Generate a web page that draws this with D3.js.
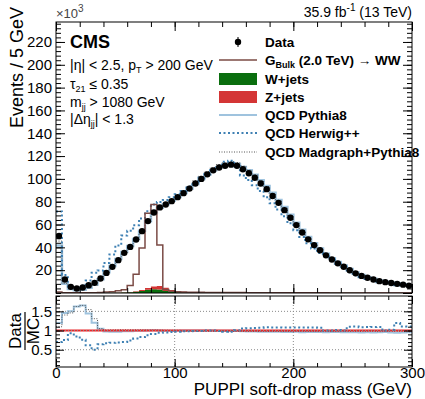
<!DOCTYPE html>
<html>
<head>
<meta charset="utf-8">
<script src="https://cdn.jsdelivr.net/npm/d3@7"></script>
<style>
body { margin: 0; background: #fff; }
text { font-family: "Liberation Sans", Arial, Helvetica, sans-serif; }
</style>
</head>
<body>
<script>
// bins of 5 GeV from 0 to 300
var binWidth = 5;
var binLow = d3.range(0, 300, binWidth);

// events per bin, in units of 10^3
var data = [50, 11.8, 5.4, 3.9, 4.8, 6.8, 8.9, 12.7, 17.6, 22.9,
  28.8, 35.2, 40.4, 46.9, 54.2, 63, 70.6, 75, 77.5, 80.5,
  84, 87.5, 91.5, 96, 100, 104, 107.5, 110, 111.5, 112.5,
  111.5, 108.5, 105, 101, 96, 91, 85, 79, 72.6, 66,
  59.5, 53, 47, 42, 37.5, 33, 29.4, 26, 23, 20,
  17.2, 15, 13.3, 11.8, 10.4, 9.5, 8.8, 8, 7.3, 6.3];

var qcdPythia = [41.7, 8.1, 3.6, 2.4, 2.9, 4.7, 7.4, 12.1, 18.1, 23.6,
  29.7, 35.9, 41.2, 47.3, 54.5, 62.8, 70.2, 74.8, 77.8, 80.9,
  84.2, 87.6, 91.3, 95.6, 99.8, 103.8, 107.6, 110.3, 112.2, 113.4,
  113, 110.5, 107.5, 103.6, 98.9, 93.8, 87.8, 81.6, 75.4, 68.5,
  61.6, 55.5, 49, 43.6, 39, 34.5, 30.5, 27.1, 24.1, 21,
  18, 15.8, 13.9, 12.4, 10.9, 9.9, 9.3, 8.5, 7.7, 6.6];

var qcdHerwig = [71.4, 15.7, 5.8, 4.6, 6.3, 11.0, 17.8, 19.8, 26.3, 33.7,
  41.7, 50.3, 54.6, 59.4, 65.3, 71.6, 77.6, 79.8, 81.6, 83.9,
  86.6, 89.3, 93.4, 97, 101, 104, 107.5, 111, 115, 116,
  111, 103, 99, 94.5, 89.5, 84, 78.7, 73.1, 67.2, 61.1,
  55.1, 49.1, 43.5, 38.9, 35, 33, 29.4, 25.7, 23, 18.2,
  15.6, 13.8, 12.2, 10.8, 9.5, 9.5, 8.6, 6.7, 6.6, 5.7];

var qcdMadgraph = [45.5, 8.4, 3.7, 2.4, 2.9, 4.4, 6.8, 12.1, 17.3, 22.5,
  28.2, 34.5, 39.6, 46, 53.1, 62, 69.5, 74, 76.8, 80,
  83.5, 89.5, 93.6, 98.3, 102.3, 106.5, 110, 112.6, 114.2, 115.2,
  114.2, 111.2, 107.6, 103.5, 98.4, 93.3, 87.1, 81, 74.4, 67.7,
  61, 54.4, 48.2, 43.1, 38.5, 33.9, 30.2, 26.7, 23.6, 20.5,
  17.6, 15.4, 13.6, 12.1, 10.7, 9.7, 9, 8.2, 7.5, 6.5];

var signal = [0.8, 0.3, 0.2, 0.2, 0.2, 0.3, 0.3, 0.4, 0.8, 1.2,
  2, 2.8, 6.5, 16.5, 39.5, 70, 77.5, 42, 3, 1.5,
  1, 0.8, 0.7, 0.6, 0.6, 0.5, 0.5, 0.5, 0.4, 0.4,
  0.4, 0.4, 0.3, 0.3, 0.3, 0.3, 0.3, 0.3, 0.2, 0.2,
  0.2, 0.2, 0.2, 0.2, 0.2, 0.2, 0.1, 0.1, 0.1, 0.1,
  0.1, 0.1, 0.1, 0.1, 0.1, 0.1, 0.1, 0.1, 0.1, 0.1];

var wjets = [0.1, 0.1, 0.1, 0.1, 0.1, 0.1, 0.1, 0.2, 0.2, 0.2,
  0.3, 0.4, 0.6, 1.0, 1.8, 2.8, 3.3, 3.1, 1.8, 0.9,
  0.6, 0.5, 0.5, 0.5, 0.5, 0.5, 0.5, 0.5, 0.5, 0.5,
  0.5, 0.5, 0.5, 0.4, 0.4, 0.4, 0.4, 0.4, 0.3, 0.3,
  0.3, 0.3, 0.3, 0.3, 0.2, 0.2, 0.2, 0.2, 0.2, 0.2,
  0.2, 0.1, 0.1, 0.1, 0.1, 0.1, 0.1, 0.1, 0.1, 0.1];

var zjets = [0, 0, 0, 0, 0, 0, 0, 0.1, 0.1, 0.1,
  0.1, 0.2, 0.3, 0.5, 0.9, 1.6, 2.5, 3.0, 2.8, 1.8,
  0.8, 0.5, 0.4, 0.3, 0.3, 0.3, 0.3, 0.3, 0.3, 0.3,
  0.3, 0.3, 0.3, 0.3, 0.3, 0.2, 0.2, 0.2, 0.2, 0.2,
  0.2, 0.2, 0.2, 0.2, 0.2, 0.1, 0.1, 0.1, 0.1, 0.1,
  0.1, 0.1, 0.1, 0.1, 0.1, 0.1, 0.1, 0.1, 0.1, 0.1];

var xTicks = [0, 100, 200, 300];
var xMinor = d3.range(0, 301, 20);
var yTicks = [20, 40, 60, 80, 100, 120, 140, 160, 180, 200, 220];
var yMinor = d3.range(0, 237, 4);
var rTicks = [0.5, 1, 1.5];
var rMinor = d3.range(0.1, 1.91, 0.1);

var width = 425, height = 399;
var left = 56, right = 412;
var mainTop = 22, mainBottom = 293;
var ratioTop = 296, ratioBottom = 367;

var colPythia = '#9fc3de', colHerwig = '#3e80b3', colMad = '#555555';
var colSignal = '#7b4b45', colW = '#0a6e0e', colZ = '#d43535';

var svg = d3.select('body').append('svg')
  .attr('xmlns', 'http://www.w3.org/2000/svg')
  .attr('width', width)
  .attr('height', height);

var x = d3.scaleLinear().domain([0, 300]).range([left, right]);
var y = d3.scaleLinear().domain([0, 237.5]).range([mainBottom, mainTop]);
var yr = d3.scaleLinear().domain([0.05, 1.9]).range([ratioBottom, ratioTop]);

svg.append('clipPath').attr('id', 'clipMain')
  .append('rect').attr('x', left).attr('y', mainTop)
  .attr('width', right - left).attr('height', mainBottom - mainTop);
svg.append('clipPath').attr('id', 'clipRatio')
  .append('rect').attr('x', left).attr('y', ratioTop)
  .attr('width', right - left).attr('height', ratioBottom - ratioTop);

function stepPath(values, ys) {
  var pts = values.map(function(v, i) { return [binLow[i], v]; });
  pts.push([300, values[values.length - 1]]);
  return d3.line()
    .x(function(d) { return x(d[0]); })
    .y(function(d) { return ys(d[1]); })
    .curve(d3.curveStepAfter)(pts);
}

function stepArea(lo, hi) {
  var pts = binLow.map(function(b, i) { return [b, lo[i], hi[i]]; });
  pts.push([300, lo[lo.length - 1], hi[hi.length - 1]]);
  return d3.area()
    .x(function(d) { return x(d[0]); })
    .y0(function(d) { return y(d[1]); })
    .y1(function(d) { return y(d[2]); })
    .curve(d3.curveStepAfter)(pts);
}

// ---------- main panel ----------
var gMain = svg.append('g').attr('clip-path', 'url(#clipMain)');

var zero = data.map(function() { return 0; });
var wTop = wjets.slice();
var zTop = wjets.map(function(w, i) { return w + zjets[i]; });

gMain.append('path').attr('d', stepArea(zero, wTop)).style('fill', colW);
gMain.append('path').attr('d', stepArea(wTop, zTop)).style('fill', colZ);

gMain.append('path').attr('d', stepPath(qcdPythia, y))
  .style('fill', 'none').style('stroke', colPythia).style('stroke-width', 2.5);
gMain.append('path').attr('d', stepPath(qcdMadgraph, y))
  .style('fill', 'none').style('stroke', colMad).style('stroke-width', 1)
  .style('stroke-dasharray', '1,1.5');
gMain.append('path').attr('d', stepPath(qcdHerwig, y))
  .style('fill', 'none').style('stroke', colHerwig).style('stroke-width', 2)
  .style('stroke-dasharray', '2,2.5');
gMain.append('path').attr('d', stepPath(signal, y))
  .style('fill', 'none').style('stroke', colSignal).style('stroke-width', 1.5);

gMain.selectAll('circle.data').data(data).enter().append('circle')
  .attr('class', 'data')
  .attr('cx', function(d, i) { return x(binLow[i] + binWidth / 2); })
  .attr('cy', function(d) { return y(d); })
  .attr('r', 3.2)
  .style('fill', '#000');

// ---------- ratio panel ----------
var gRatio = svg.append('g').attr('clip-path', 'url(#clipRatio)');

var grid = svg.append('g');
rTicks.forEach(function(t) {
  grid.append('line').attr('x1', left).attr('x2', right)
    .attr('y1', yr(t)).attr('y2', yr(t))
    .style('stroke', '#8a8a8a').style('stroke-width', 1).style('stroke-dasharray', '1,2');
});
[100, 200].forEach(function(t) {
  grid.append('line').attr('x1', x(t)).attr('x2', x(t))
    .attr('y1', ratioTop).attr('y2', ratioBottom)
    .style('stroke', '#8a8a8a').style('stroke-width', 1).style('stroke-dasharray', '1,2');
});

function ratioOf(mc) {
  return data.map(function(d, i) { return d / mc[i]; });
}

gRatio.append('path').attr('d', stepPath(ratioOf(qcdPythia), yr))
  .style('fill', 'none').style('stroke', colPythia).style('stroke-width', 2);
gRatio.append('path').attr('d', stepPath(ratioOf(qcdMadgraph), yr))
  .style('fill', 'none').style('stroke', colMad).style('stroke-width', 1)
  .style('stroke-dasharray', '1,1.5');
gRatio.append('line').attr('x1', left).attr('x2', right)
  .attr('y1', yr(1)).attr('y2', yr(1))
  .style('stroke', '#e8262a').style('stroke-width', 2);
gRatio.append('path').attr('d', stepPath(ratioOf(qcdHerwig), yr))
  .style('fill', 'none').style('stroke', colHerwig).style('stroke-width', 2)
  .style('stroke-dasharray', '2,2.5');

// ---------- axes (ROOT style, ticks inside, on all sides) ----------
function styleAxis(g) {
  g.select('.domain').remove();
  g.selectAll('line').style('stroke', '#000').style('stroke-width', 1);
  g.selectAll('text').style('font-size', '15px').style('fill', '#000');
}

// main y
svg.append('g').attr('transform', 'translate(' + left + ',0)')
  .call(d3.axisLeft(y).tickValues(yMinor).tickSize(-5).tickFormat('')).call(styleAxis);
svg.append('g').attr('transform', 'translate(' + left + ',0)')
  .call(d3.axisLeft(y).tickValues(yTicks).tickSize(-9).tickPadding(4)).call(styleAxis);
svg.append('g').attr('transform', 'translate(' + right + ',0)')
  .call(d3.axisRight(y).tickValues(yMinor).tickSize(-5).tickFormat('')).call(styleAxis);
svg.append('g').attr('transform', 'translate(' + right + ',0)')
  .call(d3.axisRight(y).tickValues(yTicks.concat([0])).tickSize(-9).tickFormat('')).call(styleAxis);

// main x (top and bottom, no labels)
svg.append('g').attr('transform', 'translate(0,' + mainTop + ')')
  .call(d3.axisTop(x).tickValues(xMinor).tickSize(-5).tickFormat('')).call(styleAxis);
svg.append('g').attr('transform', 'translate(0,' + mainTop + ')')
  .call(d3.axisTop(x).tickValues(xTicks).tickSize(-9).tickFormat('')).call(styleAxis);
svg.append('g').attr('transform', 'translate(0,' + mainBottom + ')')
  .call(d3.axisBottom(x).tickValues(xMinor).tickSize(-5).tickFormat('')).call(styleAxis);
svg.append('g').attr('transform', 'translate(0,' + mainBottom + ')')
  .call(d3.axisBottom(x).tickValues(xTicks).tickSize(-9).tickFormat('')).call(styleAxis);

// ratio y
svg.append('g').attr('transform', 'translate(' + left + ',0)')
  .call(d3.axisLeft(yr).tickValues(rMinor).tickSize(-4).tickFormat('')).call(styleAxis);
svg.append('g').attr('transform', 'translate(' + left + ',0)')
  .call(d3.axisLeft(yr).tickValues(rTicks).tickSize(-8).tickPadding(4)
    .tickFormat(function(d) { return d === 1 ? '1' : d; })).call(styleAxis);
svg.append('g').attr('transform', 'translate(' + right + ',0)')
  .call(d3.axisRight(yr).tickValues(rMinor).tickSize(-4).tickFormat('')).call(styleAxis);
svg.append('g').attr('transform', 'translate(' + right + ',0)')
  .call(d3.axisRight(yr).tickValues(rTicks).tickSize(-8).tickFormat('')).call(styleAxis);

// ratio x
svg.append('g').attr('transform', 'translate(0,' + ratioTop + ')')
  .call(d3.axisTop(x).tickValues(xMinor).tickSize(-4).tickFormat('')).call(styleAxis);
svg.append('g').attr('transform', 'translate(0,' + ratioTop + ')')
  .call(d3.axisTop(x).tickValues(xTicks).tickSize(-8).tickFormat('')).call(styleAxis);
svg.append('g').attr('transform', 'translate(0,' + ratioBottom + ')')
  .call(d3.axisBottom(x).tickValues(xMinor).tickSize(-4).tickFormat('')).call(styleAxis);
svg.append('g').attr('transform', 'translate(0,' + ratioBottom + ')')
  .call(d3.axisBottom(x).tickValues(xTicks).tickSize(-8).tickPadding(0)).call(styleAxis);

// frames
[[mainTop, mainBottom], [ratioTop, ratioBottom]].forEach(function(p) {
  svg.append('rect').attr('x', left).attr('y', p[0])
    .attr('width', right - left).attr('height', p[1] - p[0])
    .style('fill', 'none').style('stroke', '#000').style('stroke-width', 1);
});

// ---------- texts ----------
function addText(xp, yp, size, weight, anchor) {
  return svg.append('text').attr('x', xp).attr('y', yp)
    .style('font-size', size + 'px').style('font-weight', weight || 'normal')
    .attr('text-anchor', anchor || 'start');
}
function sub(t, s, str, size) {
  t.append('tspan').attr('dy', 3).style('font-size', size + 'px').text(s);
  t.append('tspan').attr('dy', -3).text(str);
}

var t0 = addText(left, 18, 13, 'normal').style('fill', '#444');
t0.append('tspan').text('\u00d710');
t0.append('tspan').attr('dy', -6).style('font-size', '10px').text('3');

var t1 = addText(right, 17, 14, 'normal', 'end');
t1.append('tspan').text('35.9 fb');
t1.append('tspan').attr('dy', -6).style('font-size', '10px').text('-1');
t1.append('tspan').attr('dy', 6).text(' (13 TeV)');

addText(70, 48, 18, 'bold').text('CMS');

var c1 = addText(70, 70, 14);
c1.append('tspan').text('|\u03b7| < 2.5, p');
sub(c1, 'T', ' > 200 GeV', 9);
var c2 = addText(70, 89, 14);
c2.append('tspan').text('\u03c4');
sub(c2, '21', ' \u2264 0.35', 9);
var c3 = addText(70, 107, 14);
c3.append('tspan').text('m');
sub(c3, 'jj', ' > 1080 GeV', 9);
var c4 = addText(70, 124, 14);
c4.append('tspan').text('|\u0394\u03b7');
sub(c4, 'jj', '| < 1.3', 9);

// axis titles
svg.append('text').attr('transform', 'translate(23,7) rotate(-90)')
  .attr('text-anchor', 'end').style('font-size', '18px').text('Events / 5 GeV');
addText(right, 395, 17, 'normal', 'end').text('PUPPI soft-drop mass (GeV)');

var fr = svg.append('g').attr('transform', 'translate(30,331) rotate(-90)');
fr.append('text').attr('x', 0).attr('y', -9).attr('text-anchor', 'middle')
  .style('font-size', '17px').text('Data');
fr.append('line').attr('x1', -19).attr('x2', 19).attr('y1', -5).attr('y2', -5)
  .style('stroke', '#000').style('stroke-width', 1.2);
fr.append('text').attr('x', 0).attr('y', 9).attr('text-anchor', 'middle')
  .style('font-size', '17px').text('MC');

// ---------- legend ----------
var legX0 = 219, legX1 = 257, legTx = 265;
var legY = [42, 60, 79, 97, 115, 133, 152];
var lg = svg.append('g');
lg.append('line').attr('x1', 238).attr('x2', 238).attr('y1', legY[0] - 5).attr('y2', legY[0] + 5)
  .style('stroke', '#000').style('stroke-width', 1);
lg.append('circle').attr('cx', 238).attr('cy', legY[0]).attr('r', 3.2).style('fill', '#000');
lg.append('line').attr('x1', legX0).attr('x2', legX1).attr('y1', legY[1]).attr('y2', legY[1])
  .style('stroke', colSignal).style('stroke-width', 1.5);
lg.append('rect').attr('x', legX0).attr('y', legY[2] - 6).attr('width', legX1 - legX0).attr('height', 12)
  .style('fill', colW);
lg.append('rect').attr('x', legX0).attr('y', legY[3] - 6).attr('width', legX1 - legX0).attr('height', 12)
  .style('fill', colZ);
lg.append('line').attr('x1', legX0).attr('x2', legX1).attr('y1', legY[4]).attr('y2', legY[4])
  .style('stroke', colPythia).style('stroke-width', 2);
lg.append('line').attr('x1', legX0).attr('x2', legX1).attr('y1', legY[5]).attr('y2', legY[5])
  .style('stroke', colHerwig).style('stroke-width', 2).style('stroke-dasharray', '2,2.5');
lg.append('line').attr('x1', legX0).attr('x2', legX1).attr('y1', legY[6]).attr('y2', legY[6])
  .style('stroke', colMad).style('stroke-width', 1).style('stroke-dasharray', '1,1.5');

var labels = ['Data', null, 'W+jets', 'Z+jets', 'QCD Pythia8', 'QCD Herwig++', 'QCD Madgraph+Pythia8'];
labels.forEach(function(s, i) {
  var t = addText(legTx, legY[i] + 5, 13.5, 'bold');
  if (s) { t.text(s); return; }
  t.append('tspan').text('G');
  sub(t, 'Bulk', ' (2.0 TeV) \u2192 WW', 9);
});
</script>
</body>
</html>
